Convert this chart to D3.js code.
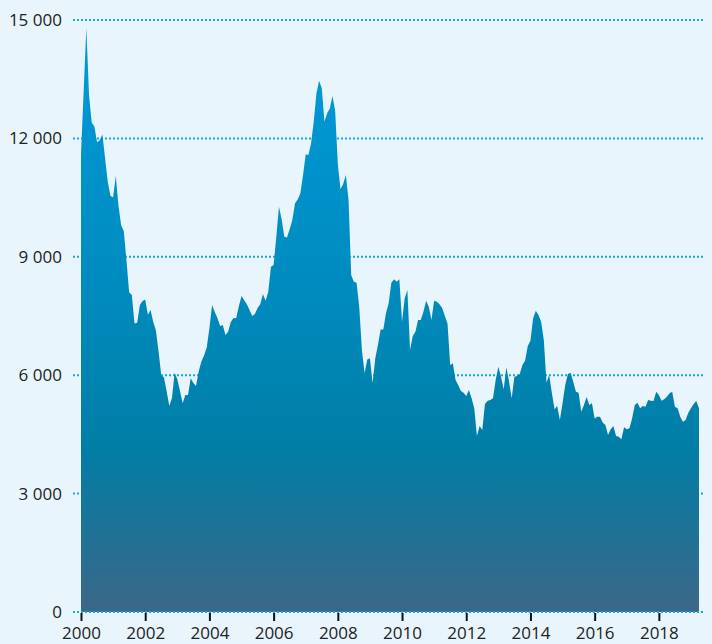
<!DOCTYPE html>
<html>
<head>
<meta charset="utf-8">
<script src="https://cdn.jsdelivr.net/npm/d3@7"></script>
<style>
  html, body { margin: 0; padding: 0; background: #e9f5fd; }
  svg { display: block; }
  text { font-family: "Open Sans", "Noto Sans", sans-serif; fill: #222; }
</style>
</head>
<body>
<svg id="chart" width="712" height="644"></svg>
<script>
// Monthly values, starting January 2000
const startYear = 2000;
const values = [
  11600, 13200, 14800, 13100, 12400, 12300, 11900, 11950, 12100, 11500, 10900, 10550, // 2000
  10500, 11050, 10300, 9800, 9650, 8900, 8100, 8030, 7310, 7330, 7780, 7880,           // 2001
  7920, 7530, 7650, 7350, 7130, 6600, 6000, 5950, 5600, 5220, 5420, 6060,              // 2002
  5900, 5600, 5290, 5500, 5500, 5920, 5800, 5725, 6100, 6350, 6500, 6700,              // 2003
  7190, 7780, 7600, 7450, 7245, 7270, 7020, 7100, 7350, 7450, 7440, 7750,              // 2004
  8005, 7900, 7800, 7650, 7500, 7550, 7700, 7800, 8055, 7885, 8115, 8750,              // 2005
  8790, 9500, 10270, 9950, 9510, 9490, 9700, 9930, 10355, 10450, 10610, 11070,         // 2006
  11600, 11580, 11875, 12420, 13140, 13460, 13270, 12420, 12635, 12760, 13075, 12700,  // 2007
  11350, 10710, 10845, 11070, 10440, 8540, 8370, 8345, 7735, 6640, 6050, 6400,         // 2008
  6430, 5795, 6430, 6765, 7160, 7160, 7570, 7820, 8345, 8430, 8370, 8430,              // 2009
  7355, 7950, 8160, 6640, 6995, 7100, 7400, 7400, 7610, 7885, 7735, 7400,              // 2010
  7885, 7860, 7800, 7700, 7500, 7310, 6260, 6300, 5880, 5750, 5600, 5555,              // 2011
  5470, 5625, 5415, 5160, 4460, 4710, 4610, 5270, 5355, 5370, 5415, 5880,              // 2012
  6215, 5960, 5640, 6200, 5835, 5415, 5960, 5980, 6030, 6260, 6365, 6740,              // 2013
  6875, 7440, 7635, 7525, 7355, 6890, 5810, 6005, 5555, 5135, 5220, 4865,              // 2014
  5290, 5750, 6030, 6065, 5835, 5580, 5555, 5075, 5245, 5450, 5245, 5290,              // 2015
  4905, 4950, 4950, 4800, 4740, 4485, 4630, 4710, 4460, 4440, 4375, 4680,              // 2016
  4630, 4655, 4905, 5245, 5305, 5160, 5220, 5200, 5370, 5355, 5345, 5580,              // 2017
  5500, 5355, 5390, 5455, 5540, 5580, 5200, 5160, 4950, 4820, 4865, 5050,              // 2018
  5160, 5270, 5345, 5160                                                               // 2019
];
const yTicks = [0, 3000, 6000, 9000, 12000, 15000];
const xTicks = [2000, 2002, 2004, 2006, 2008, 2010, 2012, 2014, 2016, 2018];
const xDomain = [2000, 2019.375];
const yDomain = [0, 15000];

const data = values.map((v, i) => ({ t: startYear + i / 12, v }));

const svg = d3.select("#chart");
const W = 712, H = 644;
svg.append("rect").attr("width", W).attr("height", H).attr("fill", "#e9f5fd");

const x = d3.scaleLinear().domain(xDomain).range([81, 703]);
const y = d3.scaleLinear().domain(yDomain).range([612, 20]);

const fmt = d => d3.format(",")(d).replace(/,/g, "\u2009\u200a");

// gradient
const defs = svg.append("defs");
const grad = defs.append("linearGradient")
  .attr("id", "areaGrad")
  .attr("gradientUnits", "userSpaceOnUse")
  .attr("x1", 0).attr("x2", 0)
  .attr("y1", y(15000)).attr("y2", y(0));
grad.append("stop").attr("offset", "0").attr("stop-color", "#009bd9");
grad.append("stop").attr("offset", "0.45").attr("stop-color", "#008bbf");
grad.append("stop").attr("offset", "0.72").attr("stop-color", "#007ea6");
grad.append("stop").attr("offset", "1").attr("stop-color", "#3c6788");

// grid lines (behind)
const gridColor = "#18a6df";
svg.append("g").selectAll("line")
  .data(yTicks.filter(d => d !== 0))
  .join("line")
  .attr("x1", 73).attr("x2", 703)
  .attr("y1", d => y(d)).attr("y2", d => y(d))
  .attr("stroke", gridColor)
  .attr("stroke-width", 2)
  .attr("stroke-dasharray", "2,2");

// area
const area = d3.area()
  .x(d => x(d.t))
  .y0(y(0))
  .y1(d => y(d.v));
svg.append("path")
  .datum(data)
  .attr("d", area)
  .attr("fill", "url(#areaGrad)");

// zero line (on top)
svg.append("line")
  .attr("x1", 73).attr("x2", 703)
  .attr("y1", y(0)).attr("y2", y(0))
  .attr("stroke", gridColor)
  .attr("stroke-width", 2)
  .attr("stroke-dasharray", "2,2");

// y labels
svg.append("g").selectAll("text")
  .data(yTicks)
  .join("text")
  .attr("x", 62)
  .attr("y", d => y(d) + 6)
  .attr("text-anchor", "end")
  .attr("font-size", 17)
  .text(d => fmt(d));

// x axis ticks
const xAxis = d3.axisBottom(x)
  .tickValues(xTicks)
  .tickFormat(d3.format("d"))
  .tickSize(8)
  .tickPadding(6);
const gx = svg.append("g")
  .attr("transform", `translate(0,${y(0) + 1})`)
  .call(xAxis);
gx.select(".domain").remove();
gx.selectAll(".tick line").attr("stroke", "#111").attr("stroke-width", 2);
gx.selectAll(".tick text")
  .attr("font-size", 17)
  .attr("font-family", "'Open Sans', 'Noto Sans', sans-serif")
  .attr("fill", "#222");
</script>
</body>
</html>
